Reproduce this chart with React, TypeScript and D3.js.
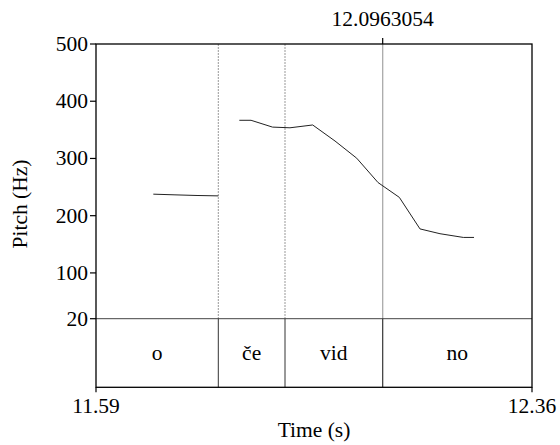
import React from "react";
import * as d3 from "d3";

const timeDomain = [11.59, 12.36];
const cursorTime = 12.0963054;
const cursorLabel = "12.0963054";
const pitchTicks = [100, 200, 300, 400, 500];
const pitchFloor = 20;
const pitchMax = 500;
const tierLabels = ["o", "če", "vid", "no"];
const tierBoundaries = [11.806, 11.9238, 12.0963054];
// pitch contour (NaN = unvoiced gap)
const pitchTimes = [11.6912, 11.7295, 11.7684, 11.806, 11.82, 11.8431, 11.8638, 11.9017, 11.9326, 11.9727, 12.0121, 12.0504, 12.0881, 12.1257, 12.1622, 12.1975, 12.2387, 12.2576];
const pitchValues = [237.6, 236.4, 235.3, 234.6, NaN, 366.7, 366.7, 354.8, 353.6, 358.5, 330.5, 300.5, 257.9, 232.0, 176.9, 168.5, 162.0, 162.0];

const W = 560, H = 445;
const left = 96, right = 532, top = 44, midY = 318.7, bottom = 387.3;
const FONT = "Liberation Serif, Times New Roman, DejaVu Serif, serif";
const FS = 21.5;

export default function App() {
  const x = d3.scaleLinear().domain(timeDomain).range([left, right]);
  const y = d3.scaleLinear().domain([pitchFloor, pitchMax]).range([midY, top]);
  const pts = pitchTimes.map((t, i) => [t, pitchValues[i]] as [number, number]);
  const line = d3
    .line<[number, number]>()
    .defined((d) => !isNaN(d[1]))
    .x((d) => x(d[0]))
    .y((d) => y(d[1]));
  const edges = [timeDomain[0], ...tierBoundaries, timeDomain[1]];
  const tierMid = (midY + bottom) / 2;
  const yTicks = [pitchFloor, ...pitchTicks];
  const ts = { fontFamily: FONT, fontSize: FS } as React.CSSProperties;
  return (
    <svg width={W} height={H} style={{ position: "absolute", left: 0, top: 0, fontFamily: FONT }}>
      <rect x={0} y={0} width={W} height={H} fill="#fff" />
      {tierBoundaries.slice(0, 2).map((b, i) => (
        <line key={"d" + i} x1={x(b)} x2={x(b)} y1={top} y2={midY} stroke="#999" strokeWidth={1} strokeDasharray="2,1" />
      ))}
      <line x1={x(cursorTime)} x2={x(cursorTime)} y1={top} y2={bottom} stroke="#aaa" strokeWidth={1.3} />
      <line x1={x(cursorTime)} x2={x(cursorTime)} y1={top - 6} y2={top} stroke="#000" strokeWidth={1.2} />
      <text x={x(cursorTime)} y={26} style={ts} textAnchor="middle" fill="#000">{cursorLabel}</text>
      <path d={line(pts) || ""} fill="none" stroke="#222" strokeWidth={1} />
      <line x1={left} x2={right} y1={midY} y2={midY} stroke="#444" strokeWidth={1} />
      {tierBoundaries.map((b, i) => (
        <line key={"b" + i} x1={x(b)} x2={x(b)} y1={midY} y2={bottom} stroke="#333" strokeWidth={1} />
      ))}
      {tierLabels.map((l, i) => (
        <text key={"l" + i} x={(x(edges[i]) + x(edges[i + 1])) / 2} y={tierMid + 7} style={ts} textAnchor="middle" fill="#000">{l}</text>
      ))}
      <rect x={left} y={top} width={right - left} height={bottom - top} fill="none" stroke="#000" strokeWidth={1.3} />
      {yTicks.map((v) => (
        <g key={"y" + v}>
          <line x1={left - 6} x2={left} y1={y(v)} y2={y(v)} stroke="#000" strokeWidth={1.2} />
          <text x={left - 8} y={y(v) + 7} style={ts} textAnchor="end" fill="#000">{v}</text>
        </g>
      ))}
      {timeDomain.map((t) => (
        <g key={"x" + t}>
          <line x1={x(t)} x2={x(t)} y1={bottom} y2={bottom + 5} stroke="#000" strokeWidth={1.2} />
          <text x={x(t)} y={413} style={ts} textAnchor="middle" fill="#000">{t.toFixed(2)}</text>
        </g>
      ))}
      <text x={(left + right) / 2} y={437} style={ts} textAnchor="middle" fill="#000">Time (s)</text>
      <text transform={`translate(27,204) rotate(-90)`} style={ts} textAnchor="middle" fill="#000">Pitch (Hz)</text>
    </svg>
  );
}
